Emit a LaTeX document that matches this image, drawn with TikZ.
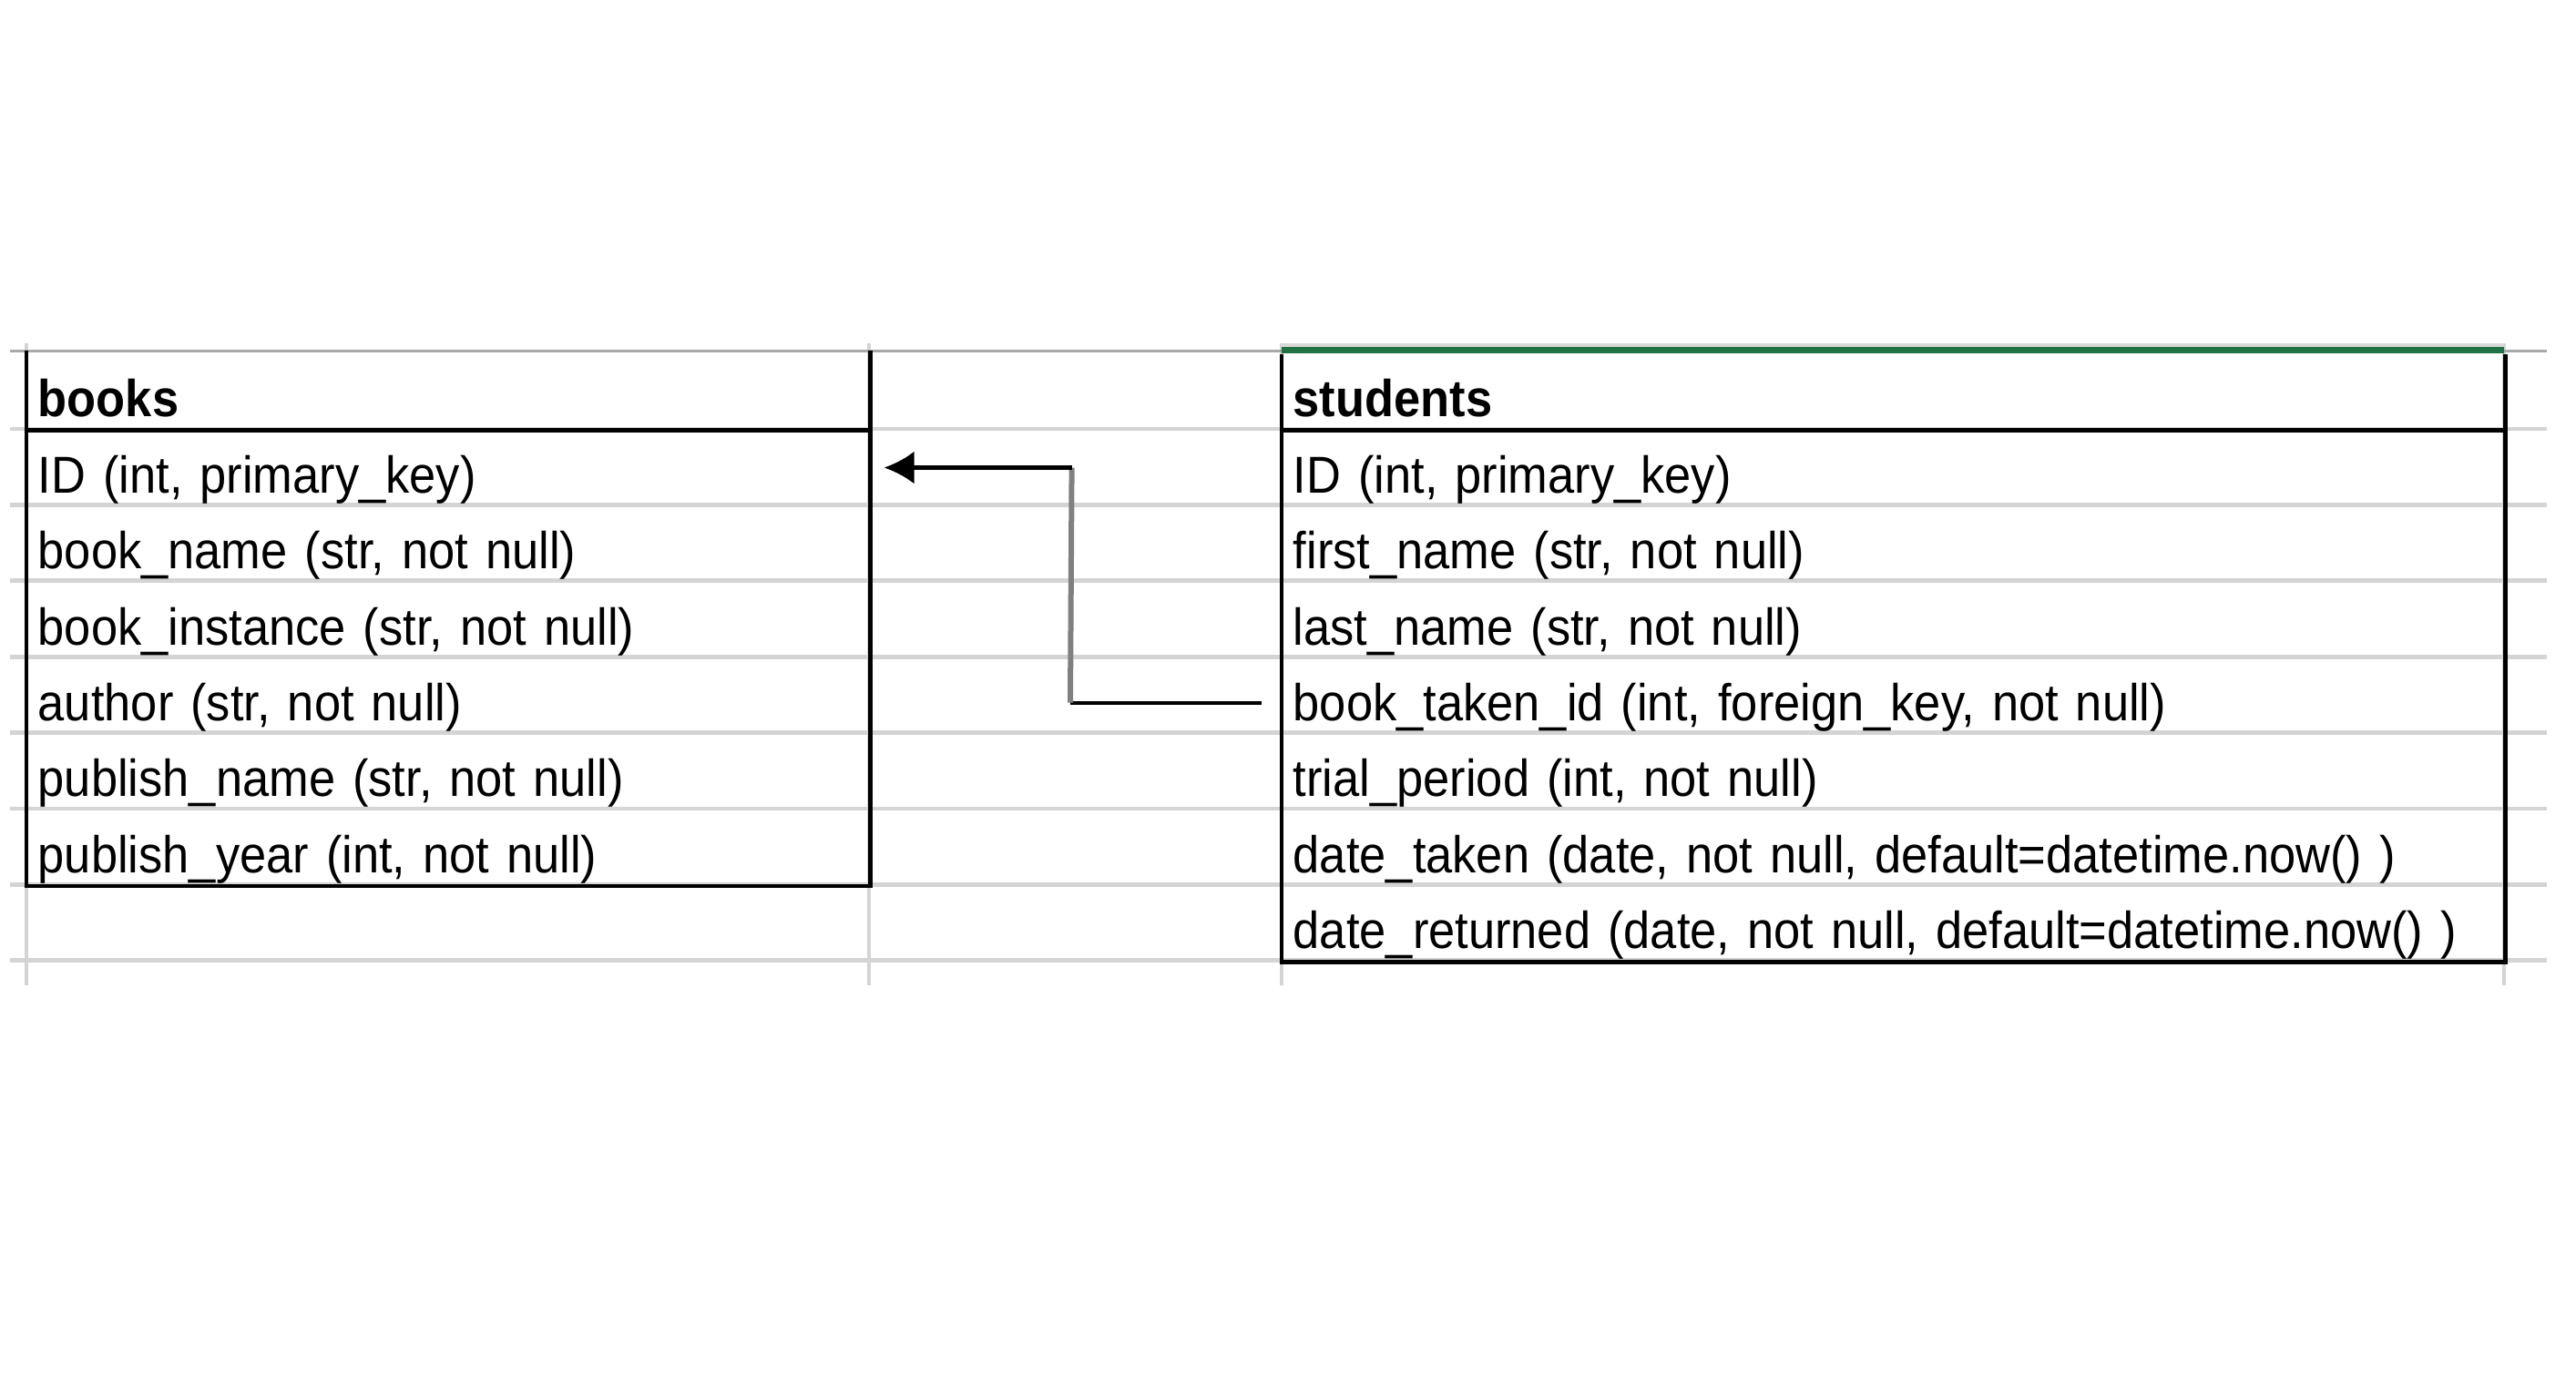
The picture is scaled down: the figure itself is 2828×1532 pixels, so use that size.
\documentclass[tikz,border=0pt]{standalone}
\usepackage{fontspec}
\setmainfont{Liberation Sans}[FakeStretch=0.92]
\usetikzlibrary{arrows.meta}
\definecolor{gridc}{HTML}{D4D4D4}
\definecolor{topc}{HTML}{A8A8A8}
\definecolor{selc}{HTML}{DADADA}
\definecolor{xlgreen}{HTML}{217346}
\definecolor{fkgray}{HTML}{808080}
\tikzset{
  gridline/.style={draw=gridc, line width=1.2pt},
  border/.style={draw=black, line width=1.15pt},
  cell/.style={anchor=north west, inner xsep=3pt, inner ysep=0pt, align=left,
    text height=17.35pt, text depth=3.5pt, font=\fontsize{14.25pt}{16pt}\selectfont},
  hcell/.style={cell, text height=18pt, font=\fontsize{14.25pt}{16pt}\selectfont\bfseries},
  bw/.style={text width=225.25pt},
  sw/.style={text width=329.5pt},
  fkline/.style={draw=black, line width=1.05pt},
  fkarrow/.style={fkline, -{Latex[length=8.25pt, width=9pt]}}
}
\begin{document}
\begin{tikzpicture}[x=0.25pt, y=-0.25pt]
\useasboundingbox (0,0) rectangle (2828,1532);
% spreadsheet grid
\foreach \yy in {471, 554.4, 637.8, 721.2, 804.6, 888, 971.4, 1054.8}
  \draw[gridline] (11,\yy) -- (2796,\yy);
\foreach \xx in {29, 954, 1407, 2749}
  \draw[gridline] (\xx,377) -- (\xx,1082);
\draw[draw=topc, line width=0.75pt] (11,385) -- (2796,385);
\draw[draw=selc, line width=1pt] (1407,379) -- (2749,379);
\draw[draw=xlgreen, line width=1.7pt] (1407,384.5) -- (2749,384.5);
% books table
\node[hcell, bw] (b0) at (29,385) {books};
\node[cell, bw] (b1) at (29,471) {ID (int, primary\_key)};
\node[cell, bw] (b2) at (29,554.4) {book\_name (str, not null)};
\node[cell, bw] (b3) at (29,637.8) {book\_instance (str, not null)};
\node[cell, bw] (b4) at (29,721.2) {author (str, not null)};
\node[cell, bw] (b5) at (29,804.6) {publish\_name (str, not null)};
\node[cell, bw] (b6) at (29,888) {publish\_year (int, not null)};
\draw[border] (b0.north west) -- (b6.south west) -- (b6.south east) -- (b0.north east);
\draw[border] (b0.south west) -- (b0.south east);
% students table
\node[hcell, sw] (s0) at (1407,385) {students};
\node[cell, sw] (s1) at (1407,471) {ID (int, primary\_key)};
\node[cell, sw] (s2) at (1407,554.4) {first\_name (str, not null)};
\node[cell, sw] (s3) at (1407,637.8) {last\_name (str, not null)};
\node[cell, sw] (s4) at (1407,721.2) {book\_taken\_id (int, foreign\_key, not null)};
\node[cell, sw] (s5) at (1407,804.6) {trial\_period (int, not null)};
\node[cell, sw] (s6) at (1407,888) {date\_taken (date, not null, default=datetime.now() )};
\node[cell, sw] (s7) at (1407,971.4) {date\_returned (date, not null, default=datetime.now() )};
\draw[border] ([yshift=-0.9pt]s0.north west) -- (s7.south west) -- (s7.south east) -- ([yshift=-0.9pt]s0.north east);
\draw[border] (s0.south west) -- (s0.south east);
% foreign key connector
\coordinate (fkstart) at ([shift={(-22,8)}]s4.west);
\coordinate (fkc1) at ([shift={(-232,8)}]s4.west);
\coordinate (fkc2) at ([shift={(221,0)}]b1.east);
\draw[fkline] (fkstart) -- (fkc1);
\draw[fkline, draw=fkgray, line width=1.5pt] (fkc1) -- (fkc2);
\draw[fkarrow] (fkc2) -- ([shift={(15,0)}]b1.east);
\end{tikzpicture}
\end{document}
